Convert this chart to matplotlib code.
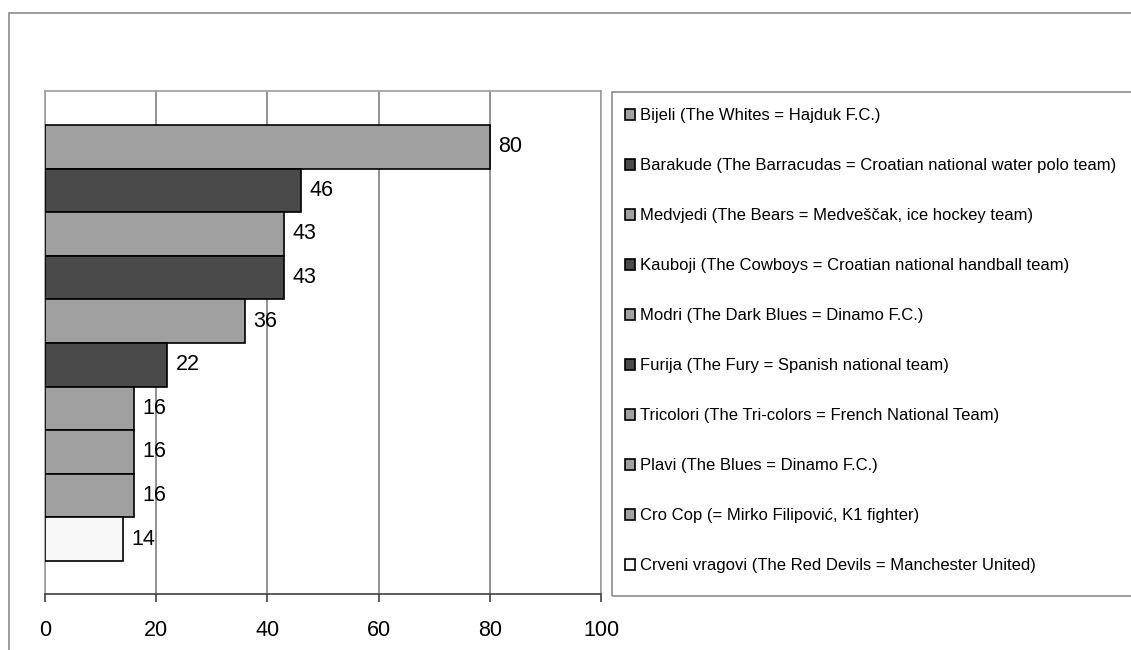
import matplotlib.pyplot as plt
from matplotlib.patches import Rectangle

plt.rcParams['font.family'] = ['Liberation Sans', 'DejaVu Sans']

names = ["Bijeli (The Whites = Hajduk F.C.)",
         "Barakude (The Barracudas = Croatian national water polo team)",
         "Medvjedi (The Bears = Medveščak, ice hockey team)",
         "Kauboji (The Cowboys = Croatian national handball team)",
         "Modri (The Dark Blues = Dinamo F.C.)",
         "Furija (The Fury = Spanish national team)",
         "Tricolori (The Tri-colors = French National Team)",
         "Plavi (The Blues = Dinamo F.C.)",
         "Cro Cop (= Mirko Filipović, K1 fighter)",
         "Crveni vragovi (The Red Devils = Manchester United)"]
values = [80, 46, 43, 43, 36, 22, 16, 16, 16, 14]
colors = ["#a0a0a0", "#4a4a4a", "#a0a0a0", "#4a4a4a", "#a0a0a0",
          "#4a4a4a", "#a0a0a0", "#a0a0a0", "#a0a0a0", "#f8f8f8"]
xticks = [0, 20, 40, 60, 80, 100]

fig = plt.figure(figsize=(11.31, 6.5), dpi=100)
# outer border (runs off the right and bottom edges)
fig.patches.append(Rectangle((9/1131, -0.1), 1.2, 1 - 13/650 + 0.1,
                             transform=fig.transFigure, fill=False,
                             edgecolor="#8c8c8c", lw=1.2))

ax = fig.add_axes([45/1131, 1 - 594/650, (601 - 45)/1131, (594 - 91)/650])
pos = list(range(len(values)))
bars = []
for i in pos:
    b = ax.barh(i, values[i], height=1.0, color=colors[i], edgecolor="black",
                linewidth=1.2, label=names[i], zorder=3)
    bars.append(b)
    ax.bar_label(b, padding=6, fontsize=15.5)

ax.set_xlim(0, 100)
ax.set_ylim(len(values) - 0.5 + 0.76, -0.5 - 0.78)
ax.set_xticks(xticks)
ax.set_yticks([])
ax.grid(axis="x", color="#808080", lw=1.2, zorder=0)
for s in ["top", "left", "right"]:
    ax.spines[s].set_color("#a0a0a0")
    ax.spines[s].set_linewidth(1.2)
ax.spines["bottom"].set_color("#404040")
ax.spines["bottom"].set_linewidth(1.2)
ax.tick_params(axis="x", length=6, width=1.2, color="#404040",
               labelsize=15.5, pad=13)

# legend box
fig.patches.append(Rectangle((612/1131, 1 - 596/650), 1.0, (596 - 92)/650,
                             transform=fig.transFigure, fill=False,
                             edgecolor="#8c8c8c", lw=1.2))
fig.legend(handles=[b[0] for b in bars], labels=names,
           loc="upper left", bbox_to_anchor=(617/1131, 1 - 100/650),
           frameon=False, fontsize=12, handlelength=0.6, handleheight=0.6,
           handletextpad=0.3, labelspacing=2.1, borderpad=0)

fig.savefig("out.png", dpi=100)
